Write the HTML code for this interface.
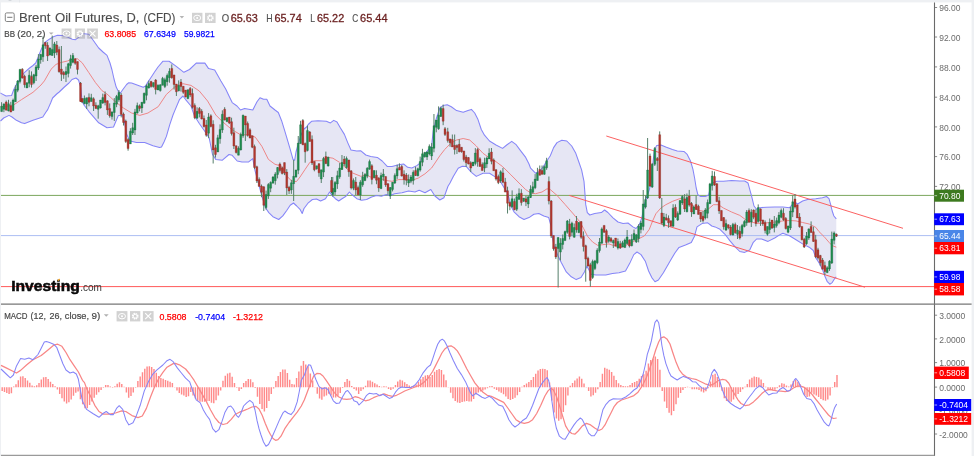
<!DOCTYPE html>
<html lang="en"><head><meta charset="utf-8"><title>Brent Oil Futures, D, (CFD)</title>
<style>
html,body{margin:0;padding:0;background:#eef0f3;}
body{width:974px;height:456px;overflow:hidden;position:relative;font-family:"Liberation Sans",sans-serif;}
svg{position:absolute;left:0;top:0;display:block}
text{font-family:"Liberation Sans",sans-serif}
.ax{font-size:9px;fill:#6b6b6b}
.lb{font-size:9px;fill:#fff}
.h1{font-size:13px;fill:#4c4c4c;stroke:#4c4c4c;stroke-width:0.12px}
.h2{font-size:9.2px;fill:#484848;stroke:#484848;stroke-width:0.2px}
.v{font-size:9.8px;stroke-width:0.25px}
.ohlc{font-size:11.2px}
</style></head><body>
<svg width="974" height="456" viewBox="0 0 974 456">
<rect x="0" y="0" width="974" height="456" fill="#eef0f3"/>
<rect x="1" y="2.4" width="970.6" height="453.6" fill="#fff"/>
<rect x="8.6" y="0" width="2.8" height="0.7" fill="#c9cdd2"/>
<line x1="19.6" y1="0" x2="19.6" y2="2.4" stroke="#e1e4e8" stroke-width="0.8"/>
<g id="price-pane">
<polygon points="0.5,93.0 1.5,93.6 6.0,96.0 11.6,95.5 13.8,89.5 16.4,84.5 21.5,76.5 24.6,72.3 29.6,68.0 33.0,65.5 35.7,63.0 37.8,58.0 41.4,49.0 44.8,42.5 49.3,39.2 53.4,36.7 57.5,35.3 62.4,35.5 67.4,37.1 72.3,39.2 75.6,39.7 78.9,37.1 82.0,33.5 88.8,34.2 93.0,40.0 98.7,48.0 103.0,52.0 107.0,55.4 110.0,63.0 112.0,70.0 114.0,79.0 116.2,87.1 118.4,91.5 120.5,93.0 122.5,90.0 126.6,84.5 128.5,82.8 131.6,83.0 139.8,86.0 143.3,87.2 145.5,86.0 147.0,83.4 150.0,79.0 154.4,72.3 158.0,67.0 163.0,61.2 169.1,61.2 176.3,66.4 183.9,72.3 189.5,69.5 196.2,63.1 204.9,63.1 208.6,68.6 214.7,69.9 220.9,81.0 225.7,89.0 229.5,97.0 232.2,102.6 237.0,106.0 240.5,110.0 244.6,108.4 248.7,109.2 252.8,110.0 257.0,101.8 260.0,97.7 263.5,99.3 266.8,99.3 270.0,106.0 275.0,110.0 278.3,112.5 281.6,120.7 284.9,131.4 289.8,147.9 293.0,159.4 294.7,160.2 296.0,152.0 298.0,144.6 301.0,135.0 304.0,129.0 306.6,127.0 308.2,124.5 311.5,121.3 318.0,120.8 326.3,121.3 330.4,122.9 333.7,120.4 337.0,122.0 340.3,127.8 344.4,134.4 347.7,142.6 351.0,150.0 356.7,150.9 360.9,150.8 365.8,155.0 370.7,156.6 377.3,157.4 382.2,161.0 387.2,166.4 392.0,166.4 398.7,164.8 403.6,164.0 407.7,167.3 411.8,168.0 416.8,165.6 420.0,163.2 421.7,158.2 425.0,154.0 428.0,150.0 431.6,146.0 433.2,131.0 436.5,118.0 439.8,108.0 443.0,105.6 447.2,104.8 451.3,106.8 456.6,110.6 463.2,112.2 468.0,110.6 471.4,109.4 474.7,113.0 478.0,119.6 481.3,129.5 484.5,135.2 489.5,141.0 496.0,145.0 502.6,148.4 506.7,145.0 511.7,141.3 515.8,144.3 520.7,150.9 525.7,157.4 529.0,164.0 530.6,168.2 535.5,173.2 539.6,171.5 543.0,167.0 547.0,160.7 550.3,155.8 553.6,147.6 557.0,142.6 561.8,140.2 566.8,141.0 571.7,146.0 575.8,153.3 578.5,161.0 581.6,169.9 584.0,181.4 584.9,192.9 585.7,204.4 587.3,212.6 589.8,215.0 594.7,213.5 601.3,212.6 604.6,210.0 607.9,212.5 613.0,217.8 618.0,222.0 623.0,223.6 628.0,223.0 632.9,226.9 636.0,228.5 639.5,224.4 642.0,217.0 644.4,204.7 646.9,196.4 649.3,189.9 651.0,182.0 652.6,165.9 654.3,150.5 656.7,145.4 660.9,144.9 665.8,147.0 672.4,149.5 677.3,151.0 683.9,151.4 687.2,154.4 690.5,161.0 692.9,169.2 694.6,178.0 696.2,188.0 697.9,194.8 700.3,196.4 705.3,196.4 708.6,195.0 710.0,189.0 711.8,183.2 716.8,181.3 723.4,181.3 731.6,180.6 739.8,181.0 744.7,181.0 748.0,183.0 750.0,190.4 751.6,196.2 754.0,206.0 756.6,209.3 759.9,207.7 766.4,207.2 774.7,206.9 782.9,206.9 789.5,207.7 791.0,206.0 794.4,202.0 797.7,204.0 802.6,201.0 807.6,199.5 815.8,198.7 822.4,197.8 826.5,196.5 829.0,198.7 830.6,204.4 832.2,211.0 833.9,216.0 836.3,218.9 836.3,276.8 834.7,278.5 832.2,282.6 829.8,284.2 827.3,281.7 824.8,276.0 822.4,269.4 819.0,262.8 815.8,257.9 813.3,250.5 809.2,247.2 802.6,243.9 796.0,239.8 789.5,235.7 782.9,233.2 779.6,234.9 774.7,238.0 768.0,241.4 761.5,239.0 756.6,239.0 753.3,242.3 749.7,250.0 744.7,252.4 739.8,251.5 734.9,246.6 730.0,240.9 725.0,234.3 720.0,229.3 715.0,226.9 711.8,226.0 707.7,222.8 702.0,223.6 697.0,226.9 694.6,235.9 691.3,242.5 685.5,245.0 679.0,247.4 674.9,253.0 670.0,261.2 663.4,272.7 658.4,280.0 655.0,281.7 651.8,277.6 648.6,271.0 645.3,261.2 641.0,254.6 637.0,252.0 633.8,254.6 629.6,263.6 625.5,271.0 619.0,272.7 612.4,273.5 605.8,275.0 596.0,275.0 591.0,274.3 589.0,270.0 586.9,266.0 584.4,271.9 581.0,277.6 576.2,279.6 571.3,276.8 566.3,271.9 561.4,262.8 558.0,256.0 554.0,246.0 552.0,234.8 551.0,225.8 548.7,217.6 543.8,216.0 538.8,213.5 533.9,214.3 529.0,217.6 524.0,219.5 519.0,216.7 514.0,211.8 510.9,206.0 507.6,192.9 504.3,188.0 499.3,179.7 494.4,176.4 489.5,173.2 483.0,173.2 476.3,176.4 471.4,172.3 466.4,166.6 462.3,166.3 458.2,168.2 453.3,176.4 450.0,183.0 448.0,186.2 443.9,197.7 439.8,200.0 434.9,196.0 430.8,189.5 425.0,192.8 419.2,190.3 415.0,192.0 408.6,191.0 402.0,192.8 394.6,193.7 389.7,195.8 386.4,194.5 381.4,196.2 376.5,195.4 371.6,197.0 366.6,199.5 361.7,200.3 356.8,198.7 351.8,194.5 349.4,192.0 346.0,196.2 342.0,198.7 338.7,201.0 335.4,198.7 332.0,195.4 329.6,192.0 325.5,198.7 320.6,201.0 316.5,199.0 312.4,199.5 308.3,202.8 304.0,208.5 302.2,213.5 300.0,209.3 296.7,206.0 293.5,203.0 290.2,205.2 286.9,210.2 282.8,215.9 278.7,219.5 272.9,216.7 268.8,212.6 265.5,207.7 263.0,199.5 260.6,191.3 258.0,181.4 254.8,169.9 252.8,158.6 248.7,161.9 242.0,161.9 237.2,161.0 232.2,155.3 229.0,154.5 222.4,160.2 215.8,159.4 212.5,154.5 209.2,138.0 206.0,133.0 199.3,123.5 194.4,115.8 191.0,106.0 185.4,99.3 183.0,96.0 179.6,99.3 174.7,110.9 173.0,115.0 169.7,124.8 166.4,136.4 164.0,142.0 161.5,147.0 159.5,147.4 153.0,145.8 144.7,142.5 136.5,142.5 130.0,140.9 126.6,134.3 124.5,122.0 122.5,115.4 118.4,115.4 116.0,121.0 113.5,127.0 107.0,127.7 98.7,122.8 88.8,111.3 84.0,105.0 82.2,101.4 80.4,86.0 78.5,80.0 76.0,78.0 72.0,79.5 69.0,83.0 64.4,87.0 59.2,92.0 56.7,94.0 52.6,98.0 50.6,103.0 47.7,109.6 46.0,112.0 42.8,117.0 33.0,120.3 24.7,123.6 21.5,122.8 16.4,120.3 12.0,117.0 9.0,115.4 3.7,118.0 0.5,121.0" fill="#e6e6f4"/>
<line x1="1" y1="195.4" x2="934.5" y2="195.4" stroke="#7aa65c" stroke-width="1"/>
<line x1="1" y1="235.6" x2="934.5" y2="235.6" stroke="#a3b7f2" stroke-width="0.9"/>
<line x1="1" y1="286.6" x2="934.5" y2="286.6" stroke="#ff5a5a" stroke-width="1"/>
<polyline points="0.5,93.0 1.5,93.6 6.0,96.0 11.6,95.5 13.8,89.5 16.4,84.5 21.5,76.5 24.6,72.3 29.6,68.0 33.0,65.5 35.7,63.0 37.8,58.0 41.4,49.0 44.8,42.5 49.3,39.2 53.4,36.7 57.5,35.3 62.4,35.5 67.4,37.1 72.3,39.2 75.6,39.7 78.9,37.1 82.0,33.5 88.8,34.2 93.0,40.0 98.7,48.0 103.0,52.0 107.0,55.4 110.0,63.0 112.0,70.0 114.0,79.0 116.2,87.1 118.4,91.5 120.5,93.0 122.5,90.0 126.6,84.5 128.5,82.8 131.6,83.0 139.8,86.0 143.3,87.2 145.5,86.0 147.0,83.4 150.0,79.0 154.4,72.3 158.0,67.0 163.0,61.2 169.1,61.2 176.3,66.4 183.9,72.3 189.5,69.5 196.2,63.1 204.9,63.1 208.6,68.6 214.7,69.9 220.9,81.0 225.7,89.0 229.5,97.0 232.2,102.6 237.0,106.0 240.5,110.0 244.6,108.4 248.7,109.2 252.8,110.0 257.0,101.8 260.0,97.7 263.5,99.3 266.8,99.3 270.0,106.0 275.0,110.0 278.3,112.5 281.6,120.7 284.9,131.4 289.8,147.9 293.0,159.4 294.7,160.2 296.0,152.0 298.0,144.6 301.0,135.0 304.0,129.0 306.6,127.0 308.2,124.5 311.5,121.3 318.0,120.8 326.3,121.3 330.4,122.9 333.7,120.4 337.0,122.0 340.3,127.8 344.4,134.4 347.7,142.6 351.0,150.0 356.7,150.9 360.9,150.8 365.8,155.0 370.7,156.6 377.3,157.4 382.2,161.0 387.2,166.4 392.0,166.4 398.7,164.8 403.6,164.0 407.7,167.3 411.8,168.0 416.8,165.6 420.0,163.2 421.7,158.2 425.0,154.0 428.0,150.0 431.6,146.0 433.2,131.0 436.5,118.0 439.8,108.0 443.0,105.6 447.2,104.8 451.3,106.8 456.6,110.6 463.2,112.2 468.0,110.6 471.4,109.4 474.7,113.0 478.0,119.6 481.3,129.5 484.5,135.2 489.5,141.0 496.0,145.0 502.6,148.4 506.7,145.0 511.7,141.3 515.8,144.3 520.7,150.9 525.7,157.4 529.0,164.0 530.6,168.2 535.5,173.2 539.6,171.5 543.0,167.0 547.0,160.7 550.3,155.8 553.6,147.6 557.0,142.6 561.8,140.2 566.8,141.0 571.7,146.0 575.8,153.3 578.5,161.0 581.6,169.9 584.0,181.4 584.9,192.9 585.7,204.4 587.3,212.6 589.8,215.0 594.7,213.5 601.3,212.6 604.6,210.0 607.9,212.5 613.0,217.8 618.0,222.0 623.0,223.6 628.0,223.0 632.9,226.9 636.0,228.5 639.5,224.4 642.0,217.0 644.4,204.7 646.9,196.4 649.3,189.9 651.0,182.0 652.6,165.9 654.3,150.5 656.7,145.4 660.9,144.9 665.8,147.0 672.4,149.5 677.3,151.0 683.9,151.4 687.2,154.4 690.5,161.0 692.9,169.2 694.6,178.0 696.2,188.0 697.9,194.8 700.3,196.4 705.3,196.4 708.6,195.0 710.0,189.0 711.8,183.2 716.8,181.3 723.4,181.3 731.6,180.6 739.8,181.0 744.7,181.0 748.0,183.0 750.0,190.4 751.6,196.2 754.0,206.0 756.6,209.3 759.9,207.7 766.4,207.2 774.7,206.9 782.9,206.9 789.5,207.7 791.0,206.0 794.4,202.0 797.7,204.0 802.6,201.0 807.6,199.5 815.8,198.7 822.4,197.8 826.5,196.5 829.0,198.7 830.6,204.4 832.2,211.0 833.9,216.0 836.3,218.9" fill="none" stroke="#8585f8" stroke-width="1.05" stroke-linejoin="round"/>
<polyline points="0.5,121.0 3.7,118.0 9.0,115.4 12.0,117.0 16.4,120.3 21.5,122.8 24.7,123.6 33.0,120.3 42.8,117.0 46.0,112.0 47.7,109.6 50.6,103.0 52.6,98.0 56.7,94.0 59.2,92.0 64.4,87.0 69.0,83.0 72.0,79.5 76.0,78.0 78.5,80.0 80.4,86.0 82.2,101.4 84.0,105.0 88.8,111.3 98.7,122.8 107.0,127.7 113.5,127.0 116.0,121.0 118.4,115.4 122.5,115.4 124.5,122.0 126.6,134.3 130.0,140.9 136.5,142.5 144.7,142.5 153.0,145.8 159.5,147.4 161.5,147.0 164.0,142.0 166.4,136.4 169.7,124.8 173.0,115.0 174.7,110.9 179.6,99.3 183.0,96.0 185.4,99.3 191.0,106.0 194.4,115.8 199.3,123.5 206.0,133.0 209.2,138.0 212.5,154.5 215.8,159.4 222.4,160.2 229.0,154.5 232.2,155.3 237.2,161.0 242.0,161.9 248.7,161.9 252.8,158.6 254.8,169.9 258.0,181.4 260.6,191.3 263.0,199.5 265.5,207.7 268.8,212.6 272.9,216.7 278.7,219.5 282.8,215.9 286.9,210.2 290.2,205.2 293.5,203.0 296.7,206.0 300.0,209.3 302.2,213.5 304.0,208.5 308.3,202.8 312.4,199.5 316.5,199.0 320.6,201.0 325.5,198.7 329.6,192.0 332.0,195.4 335.4,198.7 338.7,201.0 342.0,198.7 346.0,196.2 349.4,192.0 351.8,194.5 356.8,198.7 361.7,200.3 366.6,199.5 371.6,197.0 376.5,195.4 381.4,196.2 386.4,194.5 389.7,195.8 394.6,193.7 402.0,192.8 408.6,191.0 415.0,192.0 419.2,190.3 425.0,192.8 430.8,189.5 434.9,196.0 439.8,200.0 443.9,197.7 448.0,186.2 450.0,183.0 453.3,176.4 458.2,168.2 462.3,166.3 466.4,166.6 471.4,172.3 476.3,176.4 483.0,173.2 489.5,173.2 494.4,176.4 499.3,179.7 504.3,188.0 507.6,192.9 510.9,206.0 514.0,211.8 519.0,216.7 524.0,219.5 529.0,217.6 533.9,214.3 538.8,213.5 543.8,216.0 548.7,217.6 551.0,225.8 552.0,234.8 554.0,246.0 558.0,256.0 561.4,262.8 566.3,271.9 571.3,276.8 576.2,279.6 581.0,277.6 584.4,271.9 586.9,266.0 589.0,270.0 591.0,274.3 596.0,275.0 605.8,275.0 612.4,273.5 619.0,272.7 625.5,271.0 629.6,263.6 633.8,254.6 637.0,252.0 641.0,254.6 645.3,261.2 648.6,271.0 651.8,277.6 655.0,281.7 658.4,280.0 663.4,272.7 670.0,261.2 674.9,253.0 679.0,247.4 685.5,245.0 691.3,242.5 694.6,235.9 697.0,226.9 702.0,223.6 707.7,222.8 711.8,226.0 715.0,226.9 720.0,229.3 725.0,234.3 730.0,240.9 734.9,246.6 739.8,251.5 744.7,252.4 749.7,250.0 753.3,242.3 756.6,239.0 761.5,239.0 768.0,241.4 774.7,238.0 779.6,234.9 782.9,233.2 789.5,235.7 796.0,239.8 802.6,243.9 809.2,247.2 813.3,250.5 815.8,257.9 819.0,262.8 822.4,269.4 824.8,276.0 827.3,281.7 829.8,284.2 832.2,282.6 834.7,278.5 836.3,276.8" fill="none" stroke="#8585f8" stroke-width="1.05" stroke-linejoin="round"/>
<polyline points="0.5,107.0 8.0,106.0 14.0,104.7 21.4,99.7 33.0,92.3 41.0,85.0 44.4,80.9 51.0,69.3 56.0,64.4 61.0,62.5 67.4,61.0 73.0,59.0 77.3,58.7 82.2,62.8 88.8,72.6 95.4,82.5 102.0,90.7 107.0,94.0 115.0,101.4 123.4,108.0 131.6,113.0 139.8,115.4 148.0,113.0 150.0,111.7 158.2,106.7 166.4,94.4 174.7,87.0 183.0,83.7 191.0,85.4 199.3,91.0 207.6,101.0 215.8,115.0 222.4,121.6 232.2,129.8 240.5,134.7 248.7,134.7 255.3,137.2 261.8,146.2 268.4,159.4 275.0,164.3 281.6,166.0 286.5,175.8 291.4,180.8 296.4,181.6 300.0,177.0 304.9,169.7 309.9,162.3 314.8,160.7 321.4,160.7 328.0,157.4 332.9,158.2 339.5,162.3 346.0,168.0 352.6,173.0 360.9,176.3 365.8,174.7 370.7,177.0 379.0,178.0 385.5,180.4 392.0,181.3 398.7,179.6 405.3,179.6 411.8,180.4 418.4,178.0 425.0,173.8 431.6,168.0 435.0,163.0 439.8,155.8 444.7,149.5 449.7,144.3 454.6,141.0 456.6,140.0 463.2,138.5 469.7,140.0 476.3,146.0 483.0,153.3 491.0,159.0 494.4,160.5 502.6,166.6 510.9,174.8 519.0,183.0 525.7,189.6 530.6,192.9 535.5,193.7 542.0,192.0 547.0,188.8 550.3,189.6 557.0,195.4 565.0,204.4 573.4,214.0 580.0,222.0 583.6,228.5 587.7,236.5 592.6,242.0 597.6,245.3 602.5,244.7 609.0,243.9 615.7,246.4 622.2,247.2 628.8,243.9 633.8,241.4 637.8,239.2 644.4,235.9 649.3,229.3 652.6,221.0 655.9,213.7 660.9,208.0 665.8,204.7 672.4,201.4 679.0,198.9 683.9,198.0 688.8,201.4 693.8,207.0 698.7,210.4 703.6,211.2 708.6,208.8 713.5,204.7 718.4,204.7 723.4,208.0 731.6,212.0 739.8,215.4 746.4,220.3 750.0,221.7 756.6,223.3 763.0,223.3 769.7,222.5 776.3,222.0 782.9,220.9 789.5,220.5 796.0,220.9 802.6,222.5 809.2,224.0 815.8,227.4 819.0,231.6 824.0,236.5 829.0,242.3 832.2,245.6 836.3,247.2" fill="none" stroke="#ee8282" stroke-width="0.95" stroke-linejoin="round"/>
<line x1="606.3" y1="136" x2="903" y2="228.3" stroke="#fb5858" stroke-width="0.95"/>
<line x1="569.2" y1="195.4" x2="865" y2="287.2" stroke="#fb5858" stroke-width="0.95"/>
<path d="M1.60 102.2V111.6M3.90 103.4V112.2M6.20 100.5V110.2M8.50 99.8V111.4M10.80 101.8V112.1M13.10 98.6V110.5M15.40 85.3V101.7M17.70 80.0V92.2M20.00 68.9V83.4M22.30 68.2V78.6M24.60 74.7V87.7M26.90 82.3V88.0M29.20 70.2V87.3M31.50 71.4V87.6M33.80 73.8V84.3M36.10 64.9V81.0M38.40 54.1V70.0M40.70 53.9V63.7M43.00 36.4V61.8M45.29 42.0V48.8M47.59 42.2V61.0M49.89 47.5V55.5M52.19 35.6V55.5M54.49 41.9V58.0M56.79 41.0V55.2M59.09 46.5V72.7M61.39 46.0V81.0M63.69 70.9V78.8M65.99 66.5V82.0M68.29 62.8V77.4M70.59 54.8V68.6M72.89 53.0V63.3M75.19 58.0V64.8M77.49 61.6V74.4M80.50 82.0V102.0M82.09 98.5V103.0M84.39 95.5V104.4M86.69 97.7V109.0M88.99 93.4V106.3M91.29 93.8V101.5M93.59 97.3V111.0M95.89 102.3V108.6M98.19 104.8V118.7M100.49 100.0V108.5M102.79 93.6V104.0M105.09 91.4V105.4M107.39 100.3V114.9M109.69 103.4V117.7M111.99 111.4V119.6M114.29 98.1V121.0M116.59 94.9V107.2M118.89 90.0V101.8M121.19 93.1V117.4M123.49 112.5V125.5M125.79 119.6V142.9M128.08 138.1V150.7M130.38 128.2V143.9M132.68 122.8V135.0M134.98 108.9V135.0M137.28 102.6V113.6M139.58 104.4V111.4M141.88 102.2V113.0M144.18 92.7V103.7M146.48 84.4V100.3M148.78 80.6V88.5M151.08 80.9V87.6M153.38 82.6V87.6M155.68 79.0V94.4M157.98 84.3V90.0M160.28 84.3V91.6M162.58 76.9V85.3M164.88 77.7V88.1M167.18 73.5V85.7M169.48 68.2V82.7M171.78 64.4V78.7M174.08 74.9V89.5M176.38 84.0V96.0M178.68 80.4V91.3M180.98 79.0V91.6M183.28 86.2V93.8M185.58 90.0V97.4M187.88 89.7V99.1M190.18 87.0V97.1M192.48 88.5V108.7M194.78 103.4V119.2M197.08 107.3V118.7M199.38 107.0V117.4M201.68 109.2V119.4M203.98 115.5V127.5M206.28 120.0V136.7M208.58 113.1V138.2M210.87 114.3V127.4M213.17 120.3V163.5M215.47 144.8V157.6M217.77 134.8V152.0M220.07 124.4V143.7M222.37 110.3V132.9M224.67 107.2V120.5M226.97 117.3V122.1M229.27 117.0V124.1M231.57 117.7V135.5M233.87 127.7V149.0M236.17 145.7V153.5M238.47 146.3V155.2M240.77 132.6V150.4M243.07 114.7V137.8M245.37 116.0V141.0M247.67 121.5V136.6M249.97 128.3V138.4M252.27 135.7V148.2M254.57 144.6V169.0M256.87 165.7V183.0M259.17 177.4V186.4M261.47 184.5V197.2M263.77 186.3V211.0M266.07 190.6V209.6M268.37 183.1V198.9M270.67 181.4V192.2M272.97 176.1V183.2M275.27 172.2V184.7M277.57 167.0V178.4M279.87 162.5V172.5M282.17 166.7V174.5M284.47 162.6V175.1M286.77 169.1V195.0M289.07 185.8V194.0M291.37 179.8V193.9M293.67 160.0V201.0M295.96 169.9V177.6M298.26 136.0V174.2M300.56 120.8V143.6M302.86 119.1V145.2M305.16 142.5V162.7M307.46 125.6V151.4M309.76 131.0V141.5M312.06 135.4V165.0M314.36 161.4V171.3M316.66 165.8V169.7M318.96 163.2V176.8M321.26 169.8V183.0M323.56 156.9V177.1M325.86 151.6V164.1M328.16 156.7V166.5M331.50 177.0V193.0M332.76 177.0V196.6M335.06 181.1V195.0M337.36 170.7V188.9M339.66 163.1V178.8M341.96 155.0V170.0M344.26 156.0V166.1M346.56 156.5V168.6M348.86 159.9V176.8M351.16 170.3V189.5M353.46 178.4V190.2M355.76 177.0V195.0M358.06 185.6V195.3M360.36 180.2V200.1M362.66 171.8V186.8M364.96 173.1V181.1M367.26 167.2V178.2M369.56 159.6V169.7M371.86 164.2V184.4M374.16 170.5V178.5M376.46 170.3V184.2M378.75 177.3V191.9M381.05 172.6V189.1M383.35 169.0V180.8M385.65 176.5V186.9M387.95 183.2V194.8M390.25 187.0V199.0M392.55 182.3V191.4M394.85 173.4V184.0M397.15 164.7V178.9M399.45 163.4V170.1M401.75 165.0V176.5M404.05 170.3V184.6M406.35 173.0V185.3M408.65 174.5V187.0M410.95 175.0V183.2M413.25 170.3V184.6M415.55 166.6V176.0M417.85 167.7V176.3M420.15 156.6V171.6M422.45 148.8V166.2M424.75 151.9V157.7M427.05 151.4V160.0M429.35 144.4V155.4M431.65 143.1V160.0M433.95 114.0V152.3M436.25 120.0V132.3M438.55 106.4V129.8M440.85 106.7V116.9M443.15 104.6V125.2M445.00 127.0V136.0M447.75 127.8V142.6M450.05 138.9V146.7M452.35 134.5V147.0M454.65 134.5V154.5M456.95 144.4V154.0M459.25 139.3V152.3M461.54 147.2V152.7M463.84 150.9V161.5M466.14 154.9V166.8M468.44 157.1V164.4M470.74 161.2V172.0M473.04 162.0V165.9M475.34 148.1V165.4M477.64 148.1V166.7M479.94 157.2V166.5M482.24 162.4V170.6M484.54 157.7V172.1M486.84 156.6V167.9M489.14 148.3V158.9M491.44 148.0V164.3M493.74 158.4V170.7M496.04 169.2V180.6M498.34 174.6V184.1M500.64 170.3V182.9M502.94 167.9V183.2M505.24 177.9V192.1M507.54 186.7V213.5M509.84 201.4V210.2M512.14 190.4V207.8M514.44 198.5V210.2M516.74 193.8V211.0M519.04 188.4V199.4M521.34 189.2V205.6M523.64 198.0V201.8M525.94 195.8V206.1M528.24 195.4V208.0M530.54 185.3V198.0M532.84 181.7V193.8M535.14 174.1V189.2M537.44 167.8V180.5M539.74 165.5V175.3M542.04 165.5V174.7M544.33 165.3V174.8M546.63 157.8V169.8M548.90 176.5V204.4M551.20 200.0V238.0M553.53 235.6V250.7M555.83 243.9V259.0M558.13 237.1V287.5M560.43 238.2V260.4M562.73 234.5V249.4M565.03 230.6V240.6M567.33 220.0V233.7M569.63 218.9V239.4M571.93 221.7V236.3M574.23 223.5V237.7M576.53 216.0V232.7M578.83 222.1V233.1M581.13 221.1V238.8M583.43 231.4V251.5M585.73 244.7V281.7M588.03 256.7V266.5M590.33 262.8V286.7M592.63 259.6V278.9M594.93 259.9V270.1M597.23 248.2V264.2M599.53 238.0V252.6M601.83 227.4V243.7M604.13 225.4V232.8M606.43 229.2V247.6M608.73 235.0V242.8M611.03 237.0V242.7M613.33 239.5V248.0M615.63 238.0V246.4M617.93 238.5V249.5M620.23 240.8V249.0M622.53 240.8V247.1M624.83 238.6V247.6M627.13 230.0V244.6M629.42 239.4V247.5M631.72 234.3V246.3M634.02 229.5V240.7M636.32 234.3V243.0M638.62 224.2V242.4M640.92 221.0V233.4M643.22 190.0V230.4M645.52 195.6V208.6M647.60 138.0V199.0M650.00 153.6V187.0M652.20 163.0V188.0M654.80 147.0V166.0M657.30 157.0V171.0M659.70 131.4V199.0M661.80 198.0V224.4M663.92 213.0V227.1M666.22 213.8V220.6M668.52 215.4V227.8M670.82 220.7V226.2M673.12 204.2V226.7M675.42 204.3V218.0M677.72 211.4V221.0M680.02 200.1V214.7M682.32 195.0V204.9M684.62 194.1V212.0M686.92 193.5V212.3M689.22 189.9V206.6M691.52 202.0V216.9M693.82 205.4V214.0M696.12 195.6V210.0M698.42 204.7V214.4M700.72 212.2V222.0M703.02 211.2V222.5M705.32 208.1V219.5M707.62 199.5V218.3M709.92 182.9V203.7M712.21 170.9V190.5M714.51 171.5V185.9M716.81 183.2V202.1M719.11 196.8V213.9M721.41 210.4V220.8M723.71 217.1V229.7M726.01 219.5V231.0M728.31 224.3V229.3M730.61 225.0V235.5M732.91 222.9V235.5M735.21 222.6V233.8M737.51 225.0V239.0M739.81 226.3V239.5M742.11 223.9V236.6M744.41 220.1V227.4M746.71 210.0V225.8M749.01 208.4V222.7M751.31 209.2V227.0M753.61 209.5V219.2M755.91 209.2V226.4M758.21 204.4V222.6M760.51 208.4V225.9M762.81 219.9V225.8M765.11 220.4V233.4M767.41 226.5V235.7M769.71 218.5V233.5M772.01 220.0V229.0M774.31 216.0V232.4M776.61 217.6V227.6M778.91 212.1V224.3M781.21 208.5V218.3M783.51 208.2V220.8M785.81 217.0V229.5M788.11 225.6V233.2M790.41 207.0V230.0M792.71 195.4V217.1M795.00 194.0V208.5M797.30 204.8V218.0M799.60 213.1V227.7M801.90 226.4V240.3M804.20 237.8V248.0M806.50 232.0V244.8M808.80 228.4V239.9M811.10 221.4V232.5M813.40 226.7V241.9M815.70 234.8V258.0M818.00 247.8V259.6M820.30 254.9V265.8M822.60 258.0V269.2M824.90 261.6V275.0M827.20 266.3V273.1M829.50 260.2V270.9M831.80 231.6V264.0M834.10 231.5V244.3M836.40 233.5V237.0" stroke="#557f69" stroke-width="1" fill="none"/>
<path d="M0.65 106.2h1.9V111.6h-1.9ZM2.95 103.9h1.9V109.2h-1.9ZM7.55 103.8h1.9V110.9h-1.9ZM12.15 100.1h1.9V110.5h-1.9ZM14.45 89.3h1.9V101.7h-1.9ZM16.75 81.0h1.9V90.2h-1.9ZM19.05 69.4h1.9V81.4h-1.9ZM25.95 82.8h1.9V88.0h-1.9ZM28.25 75.2h1.9V83.3h-1.9ZM32.85 74.8h1.9V82.8h-1.9ZM35.15 66.9h1.9V76.0h-1.9ZM37.45 59.1h1.9V68.0h-1.9ZM39.75 54.4h1.9V59.7h-1.9ZM42.05 44.8h1.9V56.8h-1.9ZM48.94 48.0h1.9V55.0h-1.9ZM51.24 49.4h1.9V55.5h-1.9ZM53.54 43.9h1.9V53.0h-1.9ZM65.04 71.5h1.9V74.5h-1.9ZM67.34 63.8h1.9V73.4h-1.9ZM69.64 58.8h1.9V65.6h-1.9ZM71.94 55.4h1.9V62.3h-1.9ZM83.44 98.5h1.9V103.4h-1.9ZM85.74 97.7h1.9V104.0h-1.9ZM90.34 97.8h1.9V101.5h-1.9ZM97.24 105.8h1.9V109.2h-1.9ZM99.54 100.0h1.9V108.0h-1.9ZM101.84 97.6h1.9V103.0h-1.9ZM111.04 111.9h1.9V116.6h-1.9ZM113.34 103.1h1.9V112.5h-1.9ZM115.64 96.4h1.9V104.2h-1.9ZM117.94 92.4h1.9V99.8h-1.9ZM129.43 131.2h1.9V143.9h-1.9ZM131.73 127.8h1.9V133.0h-1.9ZM134.03 111.9h1.9V130.0h-1.9ZM136.33 105.6h1.9V113.1h-1.9ZM140.93 102.2h1.9V108.0h-1.9ZM143.23 93.2h1.9V103.2h-1.9ZM145.53 85.9h1.9V95.3h-1.9ZM147.83 83.6h1.9V88.0h-1.9ZM152.43 82.6h1.9V86.6h-1.9ZM157.03 85.3h1.9V90.0h-1.9ZM159.33 84.8h1.9V90.6h-1.9ZM161.63 78.4h1.9V85.3h-1.9ZM163.93 79.7h1.9V86.6h-1.9ZM166.23 75.5h1.9V81.7h-1.9ZM168.53 71.2h1.9V77.7h-1.9ZM177.73 85.4h1.9V90.8h-1.9ZM186.93 89.7h1.9V98.6h-1.9ZM196.13 111.3h1.9V118.2h-1.9ZM207.63 117.1h1.9V133.2h-1.9ZM216.82 137.8h1.9V152.0h-1.9ZM219.12 129.4h1.9V138.7h-1.9ZM221.42 114.3h1.9V129.9h-1.9ZM226.02 117.8h1.9V121.6h-1.9ZM237.52 148.3h1.9V155.2h-1.9ZM239.82 134.6h1.9V149.9h-1.9ZM242.12 115.2h1.9V135.8h-1.9ZM265.12 194.6h1.9V207.6h-1.9ZM267.42 184.6h1.9V195.9h-1.9ZM269.72 182.4h1.9V188.2h-1.9ZM272.02 177.1h1.9V183.2h-1.9ZM274.32 174.2h1.9V180.7h-1.9ZM276.62 167.5h1.9V174.4h-1.9ZM290.42 182.8h1.9V189.9h-1.9ZM292.72 176.3h1.9V183.7h-1.9ZM295.01 169.9h1.9V177.1h-1.9ZM297.31 143.1h1.9V170.2h-1.9ZM299.61 124.8h1.9V143.6h-1.9ZM306.51 130.6h1.9V150.4h-1.9ZM315.71 165.8h1.9V168.7h-1.9ZM320.31 169.8h1.9V179.0h-1.9ZM322.61 158.4h1.9V172.1h-1.9ZM327.21 157.2h1.9V166.0h-1.9ZM331.81 188.3h1.9V194.6h-1.9ZM334.11 182.6h1.9V192.0h-1.9ZM336.41 175.7h1.9V183.9h-1.9ZM338.71 168.1h1.9V176.8h-1.9ZM341.01 162.5h1.9V169.5h-1.9ZM345.61 158.5h1.9V167.6h-1.9ZM352.51 180.4h1.9V188.2h-1.9ZM359.41 182.2h1.9V195.1h-1.9ZM361.71 176.8h1.9V184.8h-1.9ZM364.01 174.6h1.9V180.6h-1.9ZM366.31 168.2h1.9V176.2h-1.9ZM368.61 161.6h1.9V169.2h-1.9ZM373.21 170.5h1.9V177.5h-1.9ZM380.10 175.6h1.9V188.6h-1.9ZM382.40 174.0h1.9V176.8h-1.9ZM389.30 187.5h1.9V196.0h-1.9ZM391.60 182.3h1.9V189.4h-1.9ZM393.90 175.4h1.9V183.0h-1.9ZM396.20 168.7h1.9V175.9h-1.9ZM407.70 179.5h1.9V183.0h-1.9ZM410.00 177.0h1.9V181.2h-1.9ZM412.30 172.3h1.9V180.6h-1.9ZM416.90 168.7h1.9V175.8h-1.9ZM419.20 161.6h1.9V170.1h-1.9ZM421.50 153.8h1.9V162.2h-1.9ZM423.80 152.4h1.9V156.7h-1.9ZM426.10 151.9h1.9V157.0h-1.9ZM428.40 146.4h1.9V153.9h-1.9ZM430.70 147.1h1.9V156.0h-1.9ZM433.00 125.7h1.9V148.3h-1.9ZM435.30 120.0h1.9V127.3h-1.9ZM437.60 115.2h1.9V128.8h-1.9ZM439.90 108.2h1.9V116.4h-1.9ZM472.09 162.0h1.9V165.9h-1.9ZM474.39 153.1h1.9V163.4h-1.9ZM483.59 162.7h1.9V168.1h-1.9ZM485.89 158.1h1.9V163.9h-1.9ZM488.19 153.3h1.9V158.9h-1.9ZM499.69 171.8h1.9V180.9h-1.9ZM511.19 198.8h1.9V206.8h-1.9ZM515.79 196.8h1.9V209.2h-1.9ZM518.09 193.4h1.9V199.4h-1.9ZM522.69 198.0h1.9V201.3h-1.9ZM527.29 196.9h1.9V204.0h-1.9ZM529.59 189.3h1.9V197.5h-1.9ZM531.89 186.7h1.9V192.3h-1.9ZM534.19 179.1h1.9V187.7h-1.9ZM536.49 172.8h1.9V180.5h-1.9ZM543.38 166.8h1.9V174.3h-1.9ZM545.68 160.8h1.9V167.8h-1.9ZM557.18 237.6h1.9V248.6h-1.9ZM559.48 243.2h1.9V252.1h-1.9ZM561.78 238.5h1.9V244.4h-1.9ZM564.08 231.6h1.9V240.6h-1.9ZM566.38 221.0h1.9V232.2h-1.9ZM570.98 223.2h1.9V232.3h-1.9ZM573.28 227.5h1.9V237.2h-1.9ZM577.88 222.6h1.9V232.6h-1.9ZM591.68 261.6h1.9V277.4h-1.9ZM593.98 260.9h1.9V268.6h-1.9ZM596.28 250.2h1.9V262.7h-1.9ZM598.58 242.0h1.9V250.6h-1.9ZM600.88 228.9h1.9V243.2h-1.9ZM607.78 237.0h1.9V241.3h-1.9ZM612.38 240.5h1.9V243.0h-1.9ZM616.98 241.5h1.9V248.0h-1.9ZM621.58 242.8h1.9V247.1h-1.9ZM623.88 240.1h1.9V247.6h-1.9ZM626.18 237.0h1.9V243.6h-1.9ZM630.77 239.3h1.9V245.8h-1.9ZM633.07 233.5h1.9V239.7h-1.9ZM635.37 234.8h1.9V242.0h-1.9ZM637.67 226.2h1.9V238.4h-1.9ZM639.97 223.0h1.9V229.4h-1.9ZM642.27 203.9h1.9V226.4h-1.9ZM644.57 199.6h1.9V207.1h-1.9ZM646.65 170.0h1.9V198.0h-1.9ZM651.25 164.3h1.9V187.0h-1.9ZM653.85 148.6h1.9V164.3h-1.9ZM662.97 217.0h1.9V225.6h-1.9ZM672.17 208.2h1.9V226.2h-1.9ZM676.77 213.4h1.9V220.0h-1.9ZM679.07 200.6h1.9V214.2h-1.9ZM681.37 196.5h1.9V202.9h-1.9ZM685.97 197.5h1.9V211.8h-1.9ZM692.87 206.9h1.9V214.0h-1.9ZM704.37 210.1h1.9V218.0h-1.9ZM706.67 202.5h1.9V213.3h-1.9ZM708.97 183.9h1.9V203.7h-1.9ZM711.26 175.9h1.9V185.5h-1.9ZM725.06 223.5h1.9V230.0h-1.9ZM731.96 224.4h1.9V235.0h-1.9ZM736.56 230.0h1.9V234.3h-1.9ZM741.16 225.4h1.9V233.6h-1.9ZM743.46 221.6h1.9V226.4h-1.9ZM745.76 212.0h1.9V222.8h-1.9ZM750.36 212.2h1.9V222.0h-1.9ZM757.26 207.6h1.9V221.6h-1.9ZM766.46 226.5h1.9V234.2h-1.9ZM768.76 222.5h1.9V229.5h-1.9ZM773.36 223.9h1.9V227.6h-1.9ZM775.66 220.6h1.9V225.6h-1.9ZM777.96 215.1h1.9V222.8h-1.9ZM780.26 210.5h1.9V217.3h-1.9ZM787.16 226.1h1.9V232.2h-1.9ZM789.46 211.0h1.9V228.0h-1.9ZM791.76 201.8h1.9V212.1h-1.9ZM805.55 236.0h1.9V243.8h-1.9ZM807.85 228.9h1.9V237.9h-1.9ZM826.25 267.8h1.9V272.6h-1.9ZM828.55 261.2h1.9V268.9h-1.9ZM830.85 239.1h1.9V263.0h-1.9ZM833.15 233.0h1.9V240.3h-1.9Z" fill="#1f8f50" stroke="#145c36" stroke-width="0.3"/>
<path d="M5.25 102.0h1.9V110.2h-1.9ZM9.85 105.8h1.9V112.1h-1.9ZM21.35 69.2h1.9V78.1h-1.9ZM23.65 76.2h1.9V84.7h-1.9ZM30.55 76.4h1.9V84.6h-1.9ZM44.34 42.5h1.9V45.8h-1.9ZM46.64 45.2h1.9V56.0h-1.9ZM55.84 45.0h1.9V52.2h-1.9ZM58.14 49.5h1.9V71.7h-1.9ZM60.44 69.1h1.9V74.2h-1.9ZM62.74 72.4h1.9V74.8h-1.9ZM74.24 59.0h1.9V63.3h-1.9ZM76.54 61.6h1.9V69.4h-1.9ZM79.55 83.0h1.9V101.4h-1.9ZM81.14 98.5h1.9V102.0h-1.9ZM88.04 97.4h1.9V102.3h-1.9ZM92.64 98.8h1.9V106.0h-1.9ZM94.94 105.3h1.9V108.6h-1.9ZM104.14 94.4h1.9V102.4h-1.9ZM106.44 100.8h1.9V109.9h-1.9ZM108.74 108.4h1.9V115.7h-1.9ZM120.24 95.1h1.9V114.4h-1.9ZM122.54 114.0h1.9V122.5h-1.9ZM124.84 121.1h1.9V141.4h-1.9ZM127.13 139.6h1.9V148.6h-1.9ZM138.63 105.9h1.9V108.4h-1.9ZM150.13 81.4h1.9V86.6h-1.9ZM154.73 80.0h1.9V89.4h-1.9ZM170.83 68.4h1.9V77.7h-1.9ZM173.13 74.9h1.9V84.5h-1.9ZM175.43 84.0h1.9V91.8h-1.9ZM180.03 82.0h1.9V86.6h-1.9ZM182.33 86.2h1.9V92.3h-1.9ZM184.63 90.0h1.9V96.9h-1.9ZM189.23 88.5h1.9V95.1h-1.9ZM191.53 93.5h1.9V107.2h-1.9ZM193.83 105.4h1.9V117.7h-1.9ZM198.43 108.5h1.9V113.4h-1.9ZM200.73 111.2h1.9V118.9h-1.9ZM203.03 118.5h1.9V126.5h-1.9ZM205.33 125.0h1.9V135.2h-1.9ZM209.92 115.8h1.9V126.4h-1.9ZM212.22 124.3h1.9V149.9h-1.9ZM214.52 147.8h1.9V154.6h-1.9ZM223.72 109.2h1.9V120.0h-1.9ZM228.32 117.0h1.9V123.1h-1.9ZM230.62 121.7h1.9V133.5h-1.9ZM232.92 132.7h1.9V146.0h-1.9ZM235.22 145.7h1.9V152.5h-1.9ZM244.42 116.0h1.9V124.9h-1.9ZM246.72 123.5h1.9V135.6h-1.9ZM249.02 129.8h1.9V137.9h-1.9ZM251.32 135.7h1.9V147.2h-1.9ZM253.62 146.6h1.9V167.5h-1.9ZM255.92 166.7h1.9V181.0h-1.9ZM258.22 179.4h1.9V186.4h-1.9ZM260.52 186.0h1.9V192.2h-1.9ZM262.82 186.8h1.9V205.3h-1.9ZM278.92 164.0h1.9V170.5h-1.9ZM281.22 167.7h1.9V173.5h-1.9ZM283.52 162.6h1.9V173.1h-1.9ZM285.82 172.1h1.9V187.9h-1.9ZM288.12 187.3h1.9V191.0h-1.9ZM301.91 120.6h1.9V144.7h-1.9ZM304.21 143.5h1.9V151.8h-1.9ZM308.81 132.0h1.9V141.5h-1.9ZM311.11 139.4h1.9V163.0h-1.9ZM313.41 161.4h1.9V169.8h-1.9ZM318.01 163.7h1.9V172.8h-1.9ZM324.91 156.6h1.9V163.6h-1.9ZM330.55 180.4h1.9V192.0h-1.9ZM343.31 159.0h1.9V164.1h-1.9ZM347.91 159.9h1.9V171.8h-1.9ZM350.21 170.8h1.9V188.0h-1.9ZM354.81 182.0h1.9V189.9h-1.9ZM357.11 187.6h1.9V194.8h-1.9ZM370.91 165.7h1.9V179.4h-1.9ZM375.51 175.3h1.9V180.2h-1.9ZM377.80 178.3h1.9V187.9h-1.9ZM384.70 176.5h1.9V184.9h-1.9ZM387.00 183.7h1.9V190.8h-1.9ZM398.50 167.4h1.9V170.1h-1.9ZM400.80 166.5h1.9V176.0h-1.9ZM403.10 174.3h1.9V179.6h-1.9ZM405.40 175.0h1.9V180.3h-1.9ZM414.60 170.6h1.9V175.5h-1.9ZM442.20 108.6h1.9V121.2h-1.9ZM444.05 128.7h1.9V134.4h-1.9ZM446.80 131.8h1.9V140.6h-1.9ZM449.10 138.9h1.9V142.7h-1.9ZM451.40 139.5h1.9V147.0h-1.9ZM453.70 145.3h1.9V149.5h-1.9ZM456.00 145.4h1.9V147.6h-1.9ZM458.30 144.3h1.9V151.8h-1.9ZM460.59 147.2h1.9V151.7h-1.9ZM462.89 150.9h1.9V159.5h-1.9ZM465.19 156.9h1.9V162.8h-1.9ZM467.49 157.6h1.9V163.9h-1.9ZM469.79 162.7h1.9V168.0h-1.9ZM476.69 149.6h1.9V161.7h-1.9ZM478.99 158.7h1.9V166.5h-1.9ZM481.29 164.4h1.9V170.6h-1.9ZM490.49 152.0h1.9V161.3h-1.9ZM492.79 159.9h1.9V170.7h-1.9ZM495.09 169.7h1.9V179.1h-1.9ZM497.39 176.6h1.9V182.6h-1.9ZM501.99 172.9h1.9V182.2h-1.9ZM504.29 181.9h1.9V192.1h-1.9ZM506.59 190.7h1.9V203.2h-1.9ZM508.89 202.4h1.9V206.2h-1.9ZM513.49 201.5h1.9V209.7h-1.9ZM520.39 193.2h1.9V202.6h-1.9ZM524.99 198.8h1.9V202.1h-1.9ZM538.79 169.5h1.9V175.3h-1.9ZM541.09 170.5h1.9V174.2h-1.9ZM547.95 181.4h1.9V201.0h-1.9ZM550.25 201.0h1.9V236.0h-1.9ZM552.58 235.6h1.9V248.7h-1.9ZM554.88 246.9h1.9V257.0h-1.9ZM568.68 223.9h1.9V236.4h-1.9ZM575.58 221.0h1.9V229.7h-1.9ZM580.18 221.6h1.9V237.3h-1.9ZM582.48 236.4h1.9V246.5h-1.9ZM584.78 245.7h1.9V259.1h-1.9ZM587.08 258.2h1.9V266.0h-1.9ZM589.38 264.8h1.9V280.4h-1.9ZM603.18 225.4h1.9V232.3h-1.9ZM605.48 230.7h1.9V242.6h-1.9ZM610.08 238.5h1.9V241.2h-1.9ZM614.68 238.0h1.9V245.9h-1.9ZM619.28 243.8h1.9V248.0h-1.9ZM628.47 239.9h1.9V246.0h-1.9ZM649.05 156.0h1.9V186.0h-1.9ZM656.35 158.5h1.9V160.5h-1.9ZM658.75 134.7h1.9V197.9h-1.9ZM660.85 213.0h1.9V223.0h-1.9ZM665.27 217.8h1.9V220.1h-1.9ZM667.57 218.4h1.9V222.8h-1.9ZM669.87 220.7h1.9V226.2h-1.9ZM674.47 207.3h1.9V217.0h-1.9ZM683.67 199.1h1.9V209.0h-1.9ZM688.27 196.0h1.9V205.1h-1.9ZM690.57 203.5h1.9V211.9h-1.9ZM695.17 204.5h1.9V209.5h-1.9ZM697.47 206.2h1.9V214.4h-1.9ZM699.77 212.2h1.9V219.0h-1.9ZM702.07 216.2h1.9V220.5h-1.9ZM713.56 176.5h1.9V184.9h-1.9ZM715.86 183.7h1.9V201.6h-1.9ZM718.16 200.8h1.9V210.9h-1.9ZM720.46 210.4h1.9V220.8h-1.9ZM722.76 217.6h1.9V226.7h-1.9ZM727.36 224.8h1.9V227.8h-1.9ZM729.66 227.0h1.9V234.5h-1.9ZM734.26 224.6h1.9V232.8h-1.9ZM738.86 231.3h1.9V238.0h-1.9ZM748.06 210.4h1.9V222.2h-1.9ZM752.66 210.0h1.9V217.2h-1.9ZM754.96 213.2h1.9V223.4h-1.9ZM759.56 208.9h1.9V220.9h-1.9ZM761.86 219.9h1.9V223.8h-1.9ZM764.16 222.4h1.9V230.4h-1.9ZM771.06 220.0h1.9V228.0h-1.9ZM782.56 213.2h1.9V219.8h-1.9ZM784.86 218.5h1.9V228.5h-1.9ZM794.05 199.0h1.9V207.0h-1.9ZM796.35 204.8h1.9V218.0h-1.9ZM798.65 217.1h1.9V226.7h-1.9ZM800.95 226.4h1.9V239.8h-1.9ZM803.25 239.3h1.9V247.0h-1.9ZM810.15 226.4h1.9V232.5h-1.9ZM812.45 231.7h1.9V241.4h-1.9ZM814.75 239.8h1.9V257.0h-1.9ZM817.05 249.8h1.9V258.1h-1.9ZM819.35 255.4h1.9V262.8h-1.9ZM821.65 260.0h1.9V269.2h-1.9ZM823.95 265.6h1.9V271.5h-1.9ZM835.45 234.2h1.9V236.2h-1.9Z" fill="#b4372f" stroke="#7d241e" stroke-width="0.3"/>
</g>
<g id="macd-pane">
<path d="M2.20 387.3V391.1M4.50 387.3V392.0M6.80 387.3V392.9M9.10 387.3V394.1M11.40 387.3V393.3M13.70 387.3V386.5M16.00 387.3V384.3M18.30 387.3V380.2M20.60 387.3V376.6M22.90 387.3V376.2M25.20 387.3V378.1M27.50 387.3V380.4M29.80 387.3V382.7M32.10 387.3V385.4M34.40 387.3V386.2M36.70 387.3V385.2M39.00 387.3V383.0M41.30 387.3V379.6M43.60 387.3V377.3M45.89 387.3V376.9M48.19 387.3V379.1M50.49 387.3V381.7M52.79 387.3V384.0M55.09 387.3V386.3M57.39 387.3V389.5M59.69 387.3V394.0M61.99 387.3V398.2M64.29 387.3V401.6M66.59 387.3V403.5M68.89 387.3V402.2M71.19 387.3V399.4M73.49 387.3V395.8M75.79 387.3V392.7M78.09 387.3V391.4M80.39 387.3V399.2M82.69 387.3V404.3M84.99 387.3V408.3M87.29 387.3V408.3M89.59 387.3V405.1M91.89 387.3V401.4M94.19 387.3V397.8M96.49 387.3V394.7M98.79 387.3V392.2M101.09 387.3V389.9M103.39 387.3V387.7M105.69 387.3V385.1M107.99 387.3V385.0M110.29 387.3V386.5M112.59 387.3V387.8M114.89 387.3V386.3M117.19 387.3V383.7M119.49 387.3V382.2M121.79 387.3V384.0M124.09 387.3V386.8M126.39 387.3V392.4M128.68 387.3V397.8M130.98 387.3V396.1M133.28 387.3V392.4M135.58 387.3V387.7M137.88 387.3V381.0M140.18 387.3V376.5M142.48 387.3V372.3M144.78 387.3V368.8M147.08 387.3V366.6M149.38 387.3V366.3M151.68 387.3V367.1M153.98 387.3V368.9M156.28 387.3V372.8M158.58 387.3V376.0M160.88 387.3V378.0M163.18 387.3V378.8M165.48 387.3V380.0M167.78 387.3V380.8M170.08 387.3V381.7M172.38 387.3V383.1M174.68 387.3V386.9M176.98 387.3V390.5M179.28 387.3V393.0M181.58 387.3V394.5M183.88 387.3V395.4M186.18 387.3V396.9M188.48 387.3V396.2M190.78 387.3V392.1M193.08 387.3V395.6M195.38 387.3V398.6M197.68 387.3V400.7M199.98 387.3V401.7M202.28 387.3V401.7M204.58 387.3V401.7M206.88 387.3V401.3M209.18 387.3V401.1M211.47 387.3V402.7M213.77 387.3V403.2M216.07 387.3V400.2M218.37 387.3V395.5M220.67 387.3V390.6M222.97 387.3V380.8M225.27 387.3V375.8M227.57 387.3V373.6M229.87 387.3V372.8M232.17 387.3V376.8M234.47 387.3V383.0M236.77 387.3V387.8M239.07 387.3V390.9M241.37 387.3V389.1M243.67 387.3V383.1M245.97 387.3V381.1M248.27 387.3V378.9M250.57 387.3V379.2M252.87 387.3V382.2M255.17 387.3V388.0M257.47 387.3V396.7M259.77 387.3V404.1M262.07 387.3V409.1M264.37 387.3V411.4M266.67 387.3V407.9M268.97 387.3V401.0M271.27 387.3V393.9M273.57 387.3V388.6M275.87 387.3V380.9M278.17 387.3V376.0M280.47 387.3V371.9M282.77 387.3V369.5M285.07 387.3V369.6M287.37 387.3V372.9M289.67 387.3V379.7M291.97 387.3V384.0M294.27 387.3V384.5M296.56 387.3V377.9M298.86 387.3V371.6M301.16 387.3V365.7M303.46 387.3V361.1M305.76 387.3V364.6M308.06 387.3V366.3M310.36 387.3V373.5M312.66 387.3V380.6M314.96 387.3V386.9M317.26 387.3V393.8M319.56 387.3V398.5M321.86 387.3V399.8M324.16 387.3V396.5M326.46 387.3V395.5M328.76 387.3V393.8M331.06 387.3V395.4M333.36 387.3V397.5M335.66 387.3V397.4M337.96 387.3V395.7M340.26 387.3V392.9M342.56 387.3V387.9M344.86 387.3V382.1M347.16 387.3V379.1M349.46 387.3V380.7M351.76 387.3V385.9M354.06 387.3V389.0M356.36 387.3V390.6M358.66 387.3V393.9M360.96 387.3V391.1M363.26 387.3V389.2M365.56 387.3V385.8M367.86 387.3V380.6M370.16 387.3V380.4M372.46 387.3V381.8M374.76 387.3V383.3M377.06 387.3V384.6M379.35 387.3V385.9M381.65 387.3V386.8M383.95 387.3V386.3M386.25 387.3V386.4M388.55 387.3V389.1M390.85 387.3V390.0M393.15 387.3V388.7M395.45 387.3V384.9M397.75 387.3V381.5M400.05 387.3V379.8M402.35 387.3V380.6M404.65 387.3V382.3M406.95 387.3V384.1M409.25 387.3V385.6M411.55 387.3V386.3M413.85 387.3V385.9M416.15 387.3V384.6M418.45 387.3V381.7M420.75 387.3V379.2M423.05 387.3V377.1M425.35 387.3V375.5M427.65 387.3V375.1M429.95 387.3V377.1M432.25 387.3V374.9M434.55 387.3V371.8M436.85 387.3V369.9M439.15 387.3V369.1M441.45 387.3V369.9M443.75 387.3V374.4M446.05 387.3V380.2M448.35 387.3V386.9M450.65 387.3V392.8M452.95 387.3V398.3M455.25 387.3V401.1M457.55 387.3V402.4M459.85 387.3V403.0M462.14 387.3V402.1M464.44 387.3V401.4M466.74 387.3V400.9M469.04 387.3V401.4M471.34 387.3V401.6M473.64 387.3V399.1M475.94 387.3V394.5M478.24 387.3V392.6M480.54 387.3V391.6M482.84 387.3V390.6M485.14 387.3V389.4M487.44 387.3V388.2M489.74 387.3V386.3M492.04 387.3V385.9M494.34 387.3V388.8M496.64 387.3V390.1M498.94 387.3V391.6M501.24 387.3V392.8M503.54 387.3V394.2M505.84 387.3V396.6M508.14 387.3V399.0M510.44 387.3V400.1M512.74 387.3V399.1M515.04 387.3V397.8M517.34 387.3V395.3M519.64 387.3V391.9M521.94 387.3V386.8M524.24 387.3V385.0M526.54 387.3V383.6M528.84 387.3V382.0M531.14 387.3V379.9M533.44 387.3V377.0M535.74 387.3V373.8M538.04 387.3V370.4M540.34 387.3V369.1M542.64 387.3V368.8M544.93 387.3V369.1M547.23 387.3V370.3M549.53 387.3V382.4M551.83 387.3V400.5M554.13 387.3V412.5M556.43 387.3V418.6M558.73 387.3V420.8M561.03 387.3V419.2M563.33 387.3V412.1M565.63 387.3V405.2M567.93 387.3V395.4M570.23 387.3V385.8M572.53 387.3V383.1M574.83 387.3V380.5M577.13 387.3V378.5M579.43 387.3V376.4M581.73 387.3V378.8M584.03 387.3V383.4M586.33 387.3V386.9M588.63 387.3V391.1M590.93 387.3V396.4M593.23 387.3V395.3M595.53 387.3V392.8M597.83 387.3V389.3M600.13 387.3V381.9M602.43 387.3V373.7M604.73 387.3V367.8M607.03 387.3V368.8M609.33 387.3V369.7M611.63 387.3V372.1M613.93 387.3V375.7M616.23 387.3V379.9M618.53 387.3V383.2M620.83 387.3V385.0M623.13 387.3V386.0M625.43 387.3V386.3M627.73 387.3V386.3M630.02 387.3V385.1M632.32 387.3V383.0M634.62 387.3V382.0M636.92 387.3V381.1M639.22 387.3V378.8M641.52 387.3V376.0M643.82 387.3V374.2M646.12 387.3V370.7M648.42 387.3V363.6M650.72 387.3V360.1M653.02 387.3V358.7M655.32 387.3V356.6M657.62 387.3V359.0M659.92 387.3V369.8M662.22 387.3V390.9M664.52 387.3V401.6M666.82 387.3V408.0M669.12 387.3V412.8M671.42 387.3V415.3M673.72 387.3V411.1M676.02 387.3V404.2M678.32 387.3V397.7M680.62 387.3V392.9M682.92 387.3V390.1M685.22 387.3V388.1M687.52 387.3V386.8M689.82 387.3V386.9M692.12 387.3V389.3M694.42 387.3V389.3M696.72 387.3V389.3M699.02 387.3V389.9M701.32 387.3V391.5M703.62 387.3V392.5M705.92 387.3V391.3M708.22 387.3V388.3M710.52 387.3V381.4M712.81 387.3V374.8M715.11 387.3V373.7M717.41 387.3V377.0M719.71 387.3V381.5M722.01 387.3V390.7M724.31 387.3V398.2M726.61 387.3V400.9M728.91 387.3V402.0M731.21 387.3V401.7M733.51 387.3V399.6M735.81 387.3V395.9M738.11 387.3V394.0M740.41 387.3V392.0M742.71 387.3V389.2M745.01 387.3V386.8M747.31 387.3V383.9M749.61 387.3V379.6M751.91 387.3V377.7M754.21 387.3V376.5M756.51 387.3V376.9M758.81 387.3V377.4M761.11 387.3V379.6M763.41 387.3V383.1M765.71 387.3V386.8M768.01 387.3V389.7M770.31 387.3V390.3M772.61 387.3V390.2M774.91 387.3V389.7M777.21 387.3V388.2M779.51 387.3V385.3M781.81 387.3V383.2M784.11 387.3V383.7M786.41 387.3V385.5M788.71 387.3V386.4M791.01 387.3V384.4M793.31 387.3V381.0M795.60 387.3V379.7M797.90 387.3V381.7M800.20 387.3V384.2M802.50 387.3V386.9M804.80 387.3V395.4M807.10 387.3V396.9M809.40 387.3V396.5M811.70 387.3V392.8M814.00 387.3V394.5M816.30 387.3V395.4M818.60 387.3V397.1M820.90 387.3V398.9M823.20 387.3V400.2M825.50 387.3V400.7M827.80 387.3V399.6M830.10 387.3V395.4M832.40 387.3V387.7M834.70 387.3V382.1M837.00 387.3V375.1" stroke="#ff8a8a" stroke-width="1.45" fill="none"/>
<polyline points="1.0,365.4 6.2,367.9 12.4,371.0 16.5,373.0 20.6,370.4 26.8,364.8 33.0,359.7 41.2,355.5 47.4,350.4 53.6,345.2 57.7,344.2 61.9,346.3 66.0,352.5 70.0,359.7 74.2,365.9 78.4,372.0 82.5,380.3 84.5,382.6 86.6,388.5 90.7,396.5 94.8,405.3 99.0,411.5 103.0,414.0 109.3,414.0 115.5,413.0 121.6,410.9 125.8,411.5 132.0,415.6 138.0,417.7 142.3,416.0 146.4,408.4 150.5,397.0 154.6,386.7 158.8,378.5 162.9,372.3 167.0,367.2 173.2,363.6 175.3,363.4 179.4,364.8 185.6,369.0 189.7,374.0 194.0,380.2 198.2,387.4 202.4,394.6 206.5,401.9 210.6,410.0 214.7,417.3 218.9,422.5 223.0,424.5 227.0,423.5 231.2,419.4 235.4,414.2 239.5,412.2 243.6,410.7 247.7,409.0 251.9,407.0 256.0,406.4 259.0,409.0 262.2,415.3 265.3,423.5 268.4,430.7 270.4,434.5 273.0,438.5 275.6,440.3 278.0,439.6 281.0,436.2 284.8,428.7 289.0,422.5 293.0,417.3 297.2,412.2 301.3,406.0 304.4,399.8 307.5,391.5 310.6,383.3 313.7,376.0 316.8,373.4 319.9,373.6 323.0,376.0 326.0,380.2 330.2,386.4 334.3,392.6 338.5,396.7 342.6,398.8 346.7,399.4 350.8,398.8 354.9,396.7 358.0,397.3 361.0,398.8 365.3,400.8 369.4,399.8 373.5,397.7 377.6,396.0 381.8,394.6 384.0,393.8 388.2,395.3 392.4,396.3 396.5,395.3 400.6,393.2 404.7,391.0 409.9,389.0 415.0,387.0 420.2,385.0 424.3,381.9 428.5,377.7 432.6,371.5 435.7,365.4 438.8,359.2 441.9,353.0 444.9,348.9 448.0,346.4 451.0,345.8 454.2,347.8 457.3,350.9 460.4,356.0 463.5,362.3 466.6,368.5 470.7,375.7 474.8,382.9 479.0,388.0 483.0,392.2 487.2,395.3 491.3,396.3 495.5,398.4 499.6,400.4 503.7,402.4 507.8,408.0 512.0,414.0 516.0,419.7 520.2,422.4 524.3,423.4 528.5,422.4 532.6,419.7 536.7,413.5 540.8,405.3 544.9,396.0 548.0,390.9 550.7,388.4 553.2,389.8 556.3,396.0 559.4,405.3 562.5,415.6 565.6,425.9 568.7,431.0 571.8,433.5 574.8,434.2 578.2,431.0 582.4,425.9 586.5,423.4 590.6,424.9 594.7,428.0 598.9,430.5 602.0,429.0 605.0,424.9 608.0,418.7 611.2,412.5 614.3,406.3 617.4,402.5 621.5,400.0 627.7,398.0 633.9,395.6 638.0,392.2 642.2,386.0 646.3,377.8 649.4,369.5 652.5,360.5 655.6,350.2 658.7,342.0 661.0,337.8 663.8,336.8 666.9,338.9 670.0,344.0 673.0,353.3 676.2,362.6 679.3,369.8 682.4,373.9 686.5,377.0 691.6,378.5 696.8,379.7 702.0,382.2 706.0,384.2 710.2,385.3 714.3,383.6 718.5,380.5 722.6,379.3 725.7,380.0 728.8,383.2 731.9,389.8 734.9,394.8 738.0,399.8 741.0,403.5 745.3,405.6 749.4,404.8 753.5,401.9 757.6,398.0 761.8,393.6 765.9,390.3 770.0,389.3 772.8,390.2 776.9,390.8 781.0,391.2 785.2,391.6 789.3,390.8 793.4,388.0 797.5,386.0 800.6,386.0 803.7,387.1 807.8,390.2 812.0,394.3 816.0,399.5 820.2,404.6 824.3,409.8 828.5,415.0 831.5,417.6 833.6,418.5 836.7,418.0" fill="none" stroke="#f88686" stroke-width="1.25" stroke-linejoin="round"/>
<polyline points="1.0,369.0 6.2,374.0 10.3,377.8 13.4,375.0 16.5,365.9 20.6,358.6 24.7,359.3 28.9,358.0 33.0,359.7 38.0,354.5 41.2,348.3 44.3,342.0 46.4,341.5 49.5,342.6 53.6,344.2 56.7,347.3 59.8,355.5 62.9,363.8 66.0,370.0 70.0,373.0 73.2,372.0 76.3,374.0 78.4,379.3 80.4,390.6 82.5,401.2 86.6,409.4 92.8,413.5 99.0,417.3 103.0,413.5 106.2,411.5 110.3,414.6 113.4,414.6 116.5,408.4 119.2,405.7 122.7,409.4 125.8,419.7 128.9,424.9 133.0,422.8 136.0,416.6 140.2,405.3 144.3,390.9 148.5,381.6 152.6,374.4 156.7,370.2 162.9,365.0 167.0,360.7 170.0,359.3 173.2,361.7 177.3,367.9 181.4,373.0 185.6,378.2 189.7,381.8 193.0,391.5 196.2,399.8 200.3,402.9 203.4,410.0 206.5,415.3 209.6,419.4 212.7,428.7 215.8,432.2 218.9,429.7 222.0,421.4 225.0,412.2 228.0,407.0 230.8,406.0 233.3,409.0 236.4,415.3 238.5,417.3 240.5,414.2 243.6,406.0 246.7,402.9 249.8,400.4 252.9,402.9 255.0,410.0 257.0,420.4 259.0,428.7 261.0,435.0 263.5,442.0 266.0,446.3 268.5,444.5 271.0,439.5 273.5,433.8 276.6,426.6 279.7,419.4 282.8,413.2 284.8,411.0 288.0,413.2 291.0,414.6 294.0,411.0 297.2,401.9 299.3,391.5 301.3,380.2 304.4,375.0 306.5,368.9 308.6,364.7 310.6,365.2 312.7,370.9 315.8,379.2 318.9,386.4 322.0,388.9 325.0,387.8 328.0,389.5 330.2,394.6 333.3,400.8 336.4,403.5 339.5,402.9 342.6,396.7 345.7,391.5 347.7,390.5 350.8,394.6 353.9,400.8 357.0,401.9 359.0,405.0 363.2,400.8 366.3,395.7 369.4,393.2 373.5,394.0 376.6,393.6 379.7,395.7 383.0,394.2 386.2,396.3 389.3,398.4 392.4,397.3 395.5,392.2 398.6,388.5 401.6,387.0 405.8,387.4 410.9,387.6 415.0,385.0 419.2,379.8 423.3,372.6 427.4,367.4 430.5,365.0 432.6,359.2 435.3,350.9 437.7,344.2 440.2,340.4 442.3,339.2 444.3,340.8 447.0,345.8 450.0,353.0 453.2,360.2 457.3,368.5 461.4,374.6 465.6,381.9 468.7,389.0 470.7,393.2 472.8,395.9 475.9,393.2 479.0,395.3 482.0,397.3 485.2,398.4 489.3,396.3 492.4,398.4 495.5,401.8 498.6,405.0 502.7,406.3 505.8,412.5 508.9,419.7 512.0,424.3 515.0,427.0 518.0,424.9 522.3,420.8 526.4,418.0 529.5,412.5 532.6,405.3 535.7,397.0 538.8,388.8 541.9,383.6 545.0,379.5 547.0,377.5 548.7,380.6 550.0,386.7 552.2,403.2 554.2,417.7 556.3,428.0 559.4,436.2 562.5,438.7 565.2,439.3 567.6,435.2 570.7,430.0 574.0,424.9 577.2,420.8 580.3,418.0 582.4,419.7 585.5,425.9 588.6,433.1 591.6,435.8 594.3,435.8 596.8,432.0 598.9,425.9 600.9,417.7 603.0,409.4 606.0,404.3 609.2,400.8 613.3,398.7 617.4,399.0 621.5,399.0 625.7,397.0 629.8,393.8 633.9,390.0 637.0,388.0 640.0,382.4 643.2,374.0 645.3,365.0 647.3,354.3 649.4,348.0 651.4,340.9 653.5,329.6 655.0,322.4 657.0,319.9 658.7,322.8 660.0,330.6 661.8,345.0 663.8,355.4 665.9,363.6 669.0,371.9 671.0,376.0 674.0,378.0 677.2,380.0 680.3,378.0 683.4,376.4 686.5,377.6 689.6,379.0 692.7,381.8 695.8,382.0 698.9,385.3 702.0,387.9 705.0,389.4 707.0,388.4 709.2,382.2 711.9,372.9 714.3,369.4 716.8,372.9 719.5,380.0 722.2,389.4 724.6,395.8 727.7,400.5 730.8,403.5 734.9,406.3 740.0,409.0 743.2,406.3 746.3,401.2 749.4,397.0 752.5,393.0 755.6,388.8 759.7,385.7 762.8,387.8 765.9,391.9 768.7,395.0 772.8,393.3 776.9,392.9 780.0,389.2 783.0,387.5 785.2,389.2 787.2,391.2 790.3,390.2 792.4,385.0 794.4,379.9 795.9,378.5 798.6,382.0 801.2,388.0 803.7,394.3 806.8,398.5 810.9,399.5 814.0,403.6 817.0,409.8 821.2,417.0 824.3,422.2 827.4,425.3 828.9,425.9 830.5,422.2 832.6,413.9 834.6,407.7 836.7,404.0" fill="none" stroke="#8585f8" stroke-width="1.05" stroke-linejoin="round"/>
</g>
<line x1="934.5" y1="2.4" x2="934.5" y2="456" stroke="#6a6a6a" stroke-width="1.1"/>
<line x1="1" y1="304.2" x2="971.6" y2="304.2" stroke="#777" stroke-width="1.3"/>
<line x1="1" y1="455.4" x2="934.5" y2="455.4" stroke="#9a9a9a" stroke-width="1.2"/>
<line x1="934.5" y1="7.5" x2="937.1" y2="7.5" stroke="#6a6a6a" stroke-width="0.8"/>
<text class="ax" x="939.2" y="11.25" textLength="21.2" lengthAdjust="spacingAndGlyphs">96.00</text>
<line x1="934.5" y1="37.0" x2="937.1" y2="37.0" stroke="#6a6a6a" stroke-width="0.8"/>
<text class="ax" x="939.2" y="40.80" textLength="21.2" lengthAdjust="spacingAndGlyphs">92.00</text>
<line x1="934.5" y1="66.9" x2="937.1" y2="66.9" stroke="#6a6a6a" stroke-width="0.8"/>
<text class="ax" x="939.2" y="70.65" textLength="21.2" lengthAdjust="spacingAndGlyphs">88.00</text>
<line x1="934.5" y1="97.2" x2="937.1" y2="97.2" stroke="#6a6a6a" stroke-width="0.8"/>
<text class="ax" x="939.2" y="101.00" textLength="21.2" lengthAdjust="spacingAndGlyphs">84.00</text>
<line x1="934.5" y1="126.9" x2="937.1" y2="126.9" stroke="#6a6a6a" stroke-width="0.8"/>
<text class="ax" x="939.2" y="130.65" textLength="21.2" lengthAdjust="spacingAndGlyphs">80.00</text>
<line x1="934.5" y1="156.6" x2="937.1" y2="156.6" stroke="#6a6a6a" stroke-width="0.8"/>
<text class="ax" x="939.2" y="160.31" textLength="21.2" lengthAdjust="spacingAndGlyphs">76.00</text>
<line x1="934.5" y1="186.4" x2="937.1" y2="186.4" stroke="#6a6a6a" stroke-width="0.8"/>
<text class="ax" x="939.2" y="190.15" textLength="21.2" lengthAdjust="spacingAndGlyphs">72.00</text>
<line x1="934.5" y1="315.2" x2="937.1" y2="315.2" stroke="#6a6a6a" stroke-width="0.8"/>
<text class="ax" x="939.2" y="318.95" textLength="26.1" lengthAdjust="spacingAndGlyphs">3.0000</text>
<line x1="934.5" y1="338.9" x2="937.1" y2="338.9" stroke="#6a6a6a" stroke-width="0.8"/>
<text class="ax" x="939.2" y="342.70" textLength="26.1" lengthAdjust="spacingAndGlyphs">2.0000</text>
<line x1="934.5" y1="362.6" x2="937.1" y2="362.6" stroke="#6a6a6a" stroke-width="0.8"/>
<text class="ax" x="939.2" y="366.35" textLength="26.1" lengthAdjust="spacingAndGlyphs">1.0000</text>
<line x1="934.5" y1="387.1" x2="937.1" y2="387.1" stroke="#6a6a6a" stroke-width="0.8"/>
<text class="ax" x="939.2" y="390.80" textLength="26.1" lengthAdjust="spacingAndGlyphs">0.0000</text>
<line x1="934.5" y1="410.5" x2="937.1" y2="410.5" stroke="#6a6a6a" stroke-width="0.8"/>
<text class="ax" x="939.2" y="414.25" textLength="28.6" lengthAdjust="spacingAndGlyphs">-1.0000</text>
<line x1="934.5" y1="434.0" x2="937.1" y2="434.0" stroke="#6a6a6a" stroke-width="0.8"/>
<text class="ax" x="939.2" y="437.75" textLength="28.6" lengthAdjust="spacingAndGlyphs">-2.0000</text>
<rect x="934.2" y="189.7" width="29.8" height="12.0" fill="#3d7a1f"/>
<line x1="934.5" y1="195.7" x2="937.1" y2="195.7" stroke="#fff" stroke-width="0.8" opacity="0.8"/>
<text class="lb" x="939.2" y="198.8" textLength="21.2" lengthAdjust="spacingAndGlyphs">70.80</text>
<rect x="934.2" y="213.3" width="29.8" height="11.9" fill="#0000ff"/>
<line x1="934.5" y1="219.2" x2="937.1" y2="219.2" stroke="#fff" stroke-width="0.8" opacity="0.8"/>
<text class="lb" x="939.2" y="222.3" textLength="21.2" lengthAdjust="spacingAndGlyphs">67.63</text>
<rect x="934.2" y="230.0" width="29.8" height="12.0" fill="#4a86e8"/>
<line x1="934.5" y1="236.0" x2="937.1" y2="236.0" stroke="#fff" stroke-width="0.8" opacity="0.8"/>
<text class="lb" x="939.2" y="239.1" textLength="21.2" lengthAdjust="spacingAndGlyphs">65.44</text>
<rect x="934.2" y="242.0" width="29.8" height="12.3" fill="#ff0000"/>
<line x1="934.5" y1="248.2" x2="937.1" y2="248.2" stroke="#fff" stroke-width="0.8" opacity="0.8"/>
<text class="lb" x="939.2" y="251.2" textLength="21.2" lengthAdjust="spacingAndGlyphs">63.81</text>
<rect x="934.2" y="270.8" width="29.8" height="12.2" fill="#0000ff"/>
<line x1="934.5" y1="276.9" x2="937.1" y2="276.9" stroke="#fff" stroke-width="0.8" opacity="0.8"/>
<text class="lb" x="939.2" y="280.0" textLength="21.2" lengthAdjust="spacingAndGlyphs">59.98</text>
<rect x="934.2" y="283.0" width="29.8" height="12.4" fill="#ff0000"/>
<line x1="934.5" y1="289.2" x2="937.1" y2="289.2" stroke="#fff" stroke-width="0.8" opacity="0.8"/>
<text class="lb" x="939.2" y="292.3" textLength="21.2" lengthAdjust="spacingAndGlyphs">58.58</text>
<rect x="934.2" y="366.6" width="34.6" height="12.4" fill="#ff0000"/>
<line x1="934.5" y1="372.8" x2="937.1" y2="372.8" stroke="#fff" stroke-width="0.8" opacity="0.8"/>
<text class="lb" x="939.2" y="375.9" textLength="26.1" lengthAdjust="spacingAndGlyphs">0.5808</text>
<rect x="934.2" y="399.0" width="37.0" height="12.0" fill="#0000ff"/>
<line x1="934.5" y1="405.0" x2="937.1" y2="405.0" stroke="#fff" stroke-width="0.8" opacity="0.8"/>
<text class="lb" x="939.2" y="408.1" textLength="28.9" lengthAdjust="spacingAndGlyphs">-0.7404</text>
<rect x="934.2" y="413.0" width="37.0" height="11.8" fill="#ff0000"/>
<line x1="934.5" y1="418.9" x2="937.1" y2="418.9" stroke="#fff" stroke-width="0.8" opacity="0.8"/>
<text class="lb" x="939.2" y="422.0" textLength="28.9" lengthAdjust="spacingAndGlyphs">-1.3212</text>
<g id="legend">
<rect x="5.3" y="12.9" width="8.9" height="8.6" rx="1.4" fill="#fff" stroke="#777" stroke-width="0.9"/>
<line x1="7.2" y1="17.3" x2="12.4" y2="17.3" stroke="#777" stroke-width="1"/>
<text class="h1" x="18.9" y="21.6" textLength="31.5" lengthAdjust="spacingAndGlyphs">Brent</text>
<text class="h1" x="54.9" y="21.6" textLength="16.1" lengthAdjust="spacingAndGlyphs">Oil</text>
<text class="h1" x="74.6" y="21.6" textLength="48.3" lengthAdjust="spacingAndGlyphs">Futures,</text>
<text class="h1" x="126.4" y="21.6" textLength="12.9" lengthAdjust="spacingAndGlyphs">D,</text>
<text class="h1" x="143.6" y="21.6" textLength="31.9" lengthAdjust="spacingAndGlyphs">(CFD)</text>
<path d="M179.6 16.1h4.6l-2.3 2.4z" fill="#b5b5b5"/>
<rect x="192" y="12.8" width="10.4" height="10.2" fill="#8a8a8a" fill-opacity="0.38"/>
<ellipse cx="197.2" cy="17.9" rx="3.5" ry="2.7" fill="none" stroke="#fff" stroke-width="1"/>
<circle cx="197.2" cy="17.9" r="1.0" fill="#fff"/>
<rect x="205" y="12.8" width="10.6" height="10.2" fill="#8a8a8a" fill-opacity="0.38"/>
<circle cx="210.3" cy="17.9" r="2.6" fill="none" stroke="#fff" stroke-width="1.5" stroke-dasharray="1.4 0.65"/>
<circle cx="210.3" cy="17.9" r="1.9" fill="none" stroke="#fff" stroke-width="1"/>
<text class="ohlc" x="221.8" y="21.8" fill="#505050" stroke="#505050" stroke-width="0.15" textLength="7.4" lengthAdjust="spacingAndGlyphs">O</text>
<text class="ohlc" x="230.7" y="21.8" fill="#6a1f1f" stroke="#6a1f1f" stroke-width="0.3" textLength="27.2" lengthAdjust="spacingAndGlyphs">65.63</text>
<text class="ohlc" x="266.2" y="21.8" fill="#505050" stroke="#505050" stroke-width="0.15" textLength="6.4" lengthAdjust="spacingAndGlyphs">H</text>
<text class="ohlc" x="274.5" y="21.8" fill="#6a1f1f" stroke="#6a1f1f" stroke-width="0.3" textLength="27.2" lengthAdjust="spacingAndGlyphs">65.74</text>
<text class="ohlc" x="310.2" y="21.8" fill="#505050" stroke="#505050" stroke-width="0.15" textLength="4.8" lengthAdjust="spacingAndGlyphs">L</text>
<text class="ohlc" x="317.0" y="21.8" fill="#6a1f1f" stroke="#6a1f1f" stroke-width="0.3" textLength="27.2" lengthAdjust="spacingAndGlyphs">65.22</text>
<text class="ohlc" x="352.2" y="21.8" fill="#505050" stroke="#505050" stroke-width="0.15" textLength="6.0" lengthAdjust="spacingAndGlyphs">C</text>
<text class="ohlc" x="360.0" y="21.8" fill="#6a1f1f" stroke="#6a1f1f" stroke-width="0.3" textLength="27.6" lengthAdjust="spacingAndGlyphs">65.44</text>
<text class="h2" x="4.3" y="36.5" textLength="10.7" lengthAdjust="spacingAndGlyphs">BB</text>
<text class="h2" x="17.3" y="36.5" textLength="16.8" lengthAdjust="spacingAndGlyphs">(20,</text>
<text class="h2" x="36.8" y="36.5" textLength="8.6" lengthAdjust="spacingAndGlyphs">2)</text>
<path d="M48.9 32.4h4.6l-2.3 2.4z" fill="#b0b0b0"/>
<rect x="61.6" y="28.5" width="9.9" height="10.2" fill="#8a8a8a" fill-opacity="0.38"/>
<ellipse cx="66.5" cy="33.6" rx="3.5" ry="2.7" fill="none" stroke="#fff" stroke-width="1"/>
<circle cx="66.5" cy="33.6" r="1.0" fill="#fff"/>
<rect x="74.9" y="28.5" width="10.1" height="10.2" fill="#8a8a8a" fill-opacity="0.38"/>
<circle cx="80.0" cy="33.6" r="2.6" fill="none" stroke="#fff" stroke-width="1.5" stroke-dasharray="1.4 0.65"/>
<circle cx="80.0" cy="33.6" r="1.9" fill="none" stroke="#fff" stroke-width="1"/>
<rect x="87.2" y="28.5" width="10.7" height="10.2" fill="#8a8a8a" fill-opacity="0.38"/>
<path d="M89.5 30.6l6 6M95.5 30.6l-6 6" stroke="#fff" stroke-width="1.1" fill="none"/>
<text class="v" x="104.5" y="36.6" fill="#ff0000" stroke="#ff0000" textLength="31.6" lengthAdjust="spacingAndGlyphs">63.8085</text>
<text class="v" x="143.9" y="36.6" fill="#0000ff" stroke="#0000ff" textLength="32" lengthAdjust="spacingAndGlyphs">67.6349</text>
<text class="v" x="183.9" y="36.6" fill="#0000ff" stroke="#0000ff" textLength="30.8" lengthAdjust="spacingAndGlyphs">59.9821</text>
<text class="h2" x="4.2" y="319.4" textLength="23.3" lengthAdjust="spacingAndGlyphs">MACD</text>
<text class="h2" x="30.6" y="319.4" textLength="15.4" lengthAdjust="spacingAndGlyphs">(12,</text>
<text class="h2" x="49.4" y="319.4" textLength="12.5" lengthAdjust="spacingAndGlyphs">26,</text>
<text class="h2" x="64.8" y="319.4" textLength="24.2" lengthAdjust="spacingAndGlyphs">close,</text>
<text class="h2" x="91.5" y="319.4" textLength="8.8" lengthAdjust="spacingAndGlyphs">9)</text>
<path d="M103.8 314.2h4.9l-2.45 2.5z" fill="#b0b0b0"/>
<rect x="116.6" y="311.1" width="10.8" height="10.3" fill="#8a8a8a" fill-opacity="0.38"/>
<ellipse cx="122.0" cy="316.2" rx="3.5" ry="2.7" fill="none" stroke="#fff" stroke-width="1"/>
<circle cx="122.0" cy="316.2" r="1.0" fill="#fff"/>
<rect x="130" y="311.1" width="10.3" height="10.3" fill="#8a8a8a" fill-opacity="0.38"/>
<circle cx="135.2" cy="316.2" r="2.6" fill="none" stroke="#fff" stroke-width="1.5" stroke-dasharray="1.4 0.65"/>
<circle cx="135.2" cy="316.2" r="1.9" fill="none" stroke="#fff" stroke-width="1"/>
<rect x="142.9" y="311.1" width="10.7" height="10.3" fill="#8a8a8a" fill-opacity="0.38"/>
<path d="M145.2 313.2l6 6M151.2 313.2l-6 6" stroke="#fff" stroke-width="1.1" fill="none"/>
<text class="v" x="159.5" y="319.7" fill="#ff0000" stroke="#ff0000" textLength="27" lengthAdjust="spacingAndGlyphs">0.5808</text>
<text class="v" x="195.2" y="319.7" fill="#0000ff" stroke="#0000ff" textLength="29.9" lengthAdjust="spacingAndGlyphs">-0.7404</text>
<text class="v" x="233" y="319.7" fill="#ff0000" stroke="#ff0000" textLength="30" lengthAdjust="spacingAndGlyphs">-1.3212</text>
</g>
<g id="logo">
<text x="11.2" y="291.3" font-size="15.4" font-weight="bold" fill="#0a0a0a" stroke="#0a0a0a" stroke-width="0.55" textLength="68.6" lengthAdjust="spacingAndGlyphs">Investing</text>
<text x="80.2" y="291.3" font-size="11.6" fill="#333" textLength="21.8" lengthAdjust="spacingAndGlyphs">.com</text>
<path d="M57.3 280.4l1.9-1.9l0.9 0.9l-1.6 1.6z" fill="#f7a21b"/>
</g>
</svg>
</body></html>
